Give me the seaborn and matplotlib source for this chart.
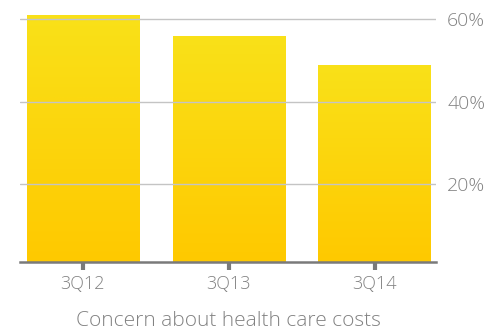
import matplotlib
matplotlib.use('Agg')
import matplotlib.pyplot as plt
import seaborn as sns
import pandas as pd
import numpy as np
from matplotlib.colors import LinearSegmentedColormap

# data
quarters = ['3Q12', '3Q13', '3Q14']
concern = [61, 56, 49]
ytick_vals = [20, 40, 60]
ytick_labels = ['20%', '40%', '60%']
xlabel = 'Concern about health care costs'

df = pd.DataFrame({'quarter': quarters, 'concern': concern})

sns.set_style('white')
plt.rcParams['font.family'] = ['Open Sans', 'DejaVu Sans']
plt.rcParams['font.weight'] = 'light'

fig = plt.figure(figsize=(4.87, 3.32), dpi=100)
# axes box in pixels: left 20, right 436, top 5, bottom 262
ax = fig.add_axes([20 / 487, 1 - 262 / 332, 416 / 487, 257 / 332])

sns.barplot(data=df, x='quarter', y='concern', color='#fcd80c', width=0.77,
            saturation=1, ax=ax, zorder=1)

ylo, yhi = 1.2, 63.5
ax.set_ylim(ylo, yhi)
ax.set_xlim(-0.43, 2.42)

# gradient fill on the bars
cmap = LinearSegmentedColormap.from_list('', ['#ffc900', '#f9e119'])
grad = np.linspace(0, 1, 256).reshape(-1, 1)
for p in ax.patches:
    x0, y0 = p.get_x(), p.get_y()
    w, h = p.get_width(), p.get_height()
    im = ax.imshow(grad, cmap=cmap, aspect='auto', origin='lower',
                   extent=[x0, x0 + w, ylo, y0 + h], zorder=2)
    im.set_clip_path(p)
ax.set_ylim(ylo, yhi)
ax.set_xlim(-0.43, 2.42)

# grid
for v in ytick_vals:
    ax.axhline(v, color='#c4c4c4', lw=1.0, zorder=3)

txt = '#828282'
ax.yaxis.tick_right()
ax.set_yticks(ytick_vals)
ax.set_yticklabels(ytick_labels, fontsize=14, color=txt, fontweight='light')
ax.tick_params(axis='y', length=0, pad=8)
ax.tick_params(axis='x', bottom=True, length=6, width=3, color='#7a7a7a',
               direction='out', labelsize=13, labelcolor=txt, pad=3)
for t in ax.get_xticklabels():
    t.set_fontweight('light')

for s in ['top', 'left', 'right']:
    ax.spines[s].set_visible(False)
ax.spines['bottom'].set_color('#7a7a7a')
ax.spines['bottom'].set_linewidth(1.8)
ax.spines['bottom'].set_zorder(4)

ax.set_ylabel('')
ax.set_xlabel(xlabel, fontsize=15, color=txt, labelpad=13, fontweight='light')

fig.savefig('out.png', dpi=100)
